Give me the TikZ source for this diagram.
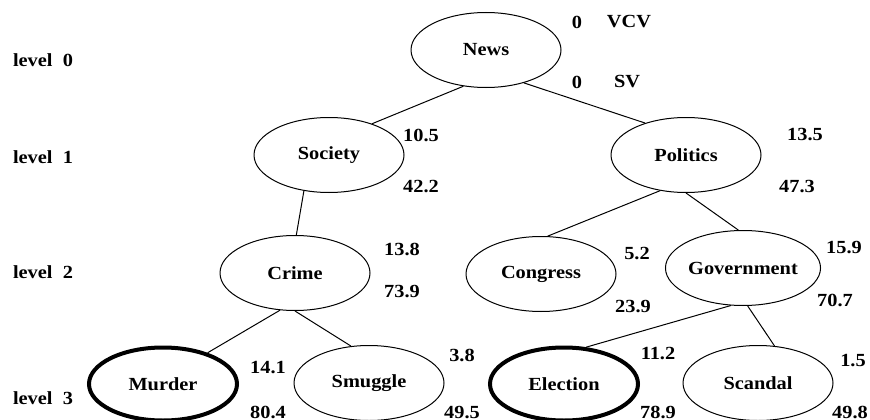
\documentclass[tikz,border=0pt]{standalone}
\usepackage{fontspec}
\setmainfont{Liberation Serif}[FakeStretch=1.1]
\usetikzlibrary{shapes.geometric}
\begin{document}
\begin{tikzpicture}[x=1pt,y=-1pt,
  every node/.style={font=\fontsize{18.5}{20}\selectfont\bfseries, inner sep=0pt},
  topic/.style={ellipse, draw, line width=1pt, minimum width=150pt, minimum height=75pt},
  chosen/.style={topic, line width=4pt, minimum width=148pt, minimum height=73pt},
  edge/.style={line width=1pt}]
\useasboundingbox (0,0) rectangle (870,420);
% level labels
\node (l0) at (43,60) {level\ \ 0};
\node (l1) at (43,157) {level\ \ 1};
\node (l2) at (43,272) {level\ \ 2};
\node (l3) at (43,398) {level\ \ 3};
% topic nodes
\node[topic] (news) at (486,50) {News};
\node[topic] (society) at (329,155) {Society};
\node[topic] (politics) at (686,155) {Politics};
\node[topic] (crime) at (295,273) {Crime};
\node[topic] (congress) at (541,274) {Congress};
\node[topic] (government) at (743,268) {Government};
\node[chosen] (murder) at (163,384) {Murder};
\node[topic] (smuggle) at (369,383) {Smuggle};
\node[chosen] (election) at (564,384) {Election};
\node[topic] (scandal) at (758,383) {Scandal};
% connectors
\draw[edge] (news.238.8) -- (society.36.7);
\draw[edge] (news.319) -- (politics.142.9);
\draw[edge] (society.235.6) -- (crime.88);
\draw[edge] (politics.234.6) -- (congress.80.8);
\draw[edge] (politics.270) -- (government.97.5);
\draw[edge] (crime.248.7) -- (murder.35.2);
\draw[edge] (crime.270) -- (smuggle.116);
\draw[edge] (government.252.5) -- (election.59);
\draw[edge] (government.277.5) -- (scandal.66.4);
% values
\node (vcv0) at (577,22) {0};
\node (vcv) at (629,22) {VCV};
\node (sv0) at (577,82) {0};
\node (sv) at (627,82) {SV};
\node (soc1) at (421,135) {10.5};
\node (soc2) at (421,187) {42.2};
\node (pol1) at (805,135) {13.5};
\node (pol2) at (797,187) {47.3};
\node (cri1) at (402,249) {13.8};
\node (cri2) at (402,292) {73.9};
\node (con1) at (637,254) {5.2};
\node (con2) at (633,307) {23.9};
\node (gov1) at (844,248) {15.9};
\node (gov2) at (835,300) {70.7};
\node (mur1) at (268,368) {14.1};
\node (mur2) at (268,412) {80.4};
\node (smu1) at (462,355) {3.8};
\node (smu2) at (462,413) {49.5};
\node (ele1) at (658,354) {11.2};
\node (ele2) at (658,412) {78.9};
\node (sca1) at (853,361) {1.5};
\node (sca2) at (850,412) {49.8};
\end{tikzpicture}
\end{document}
